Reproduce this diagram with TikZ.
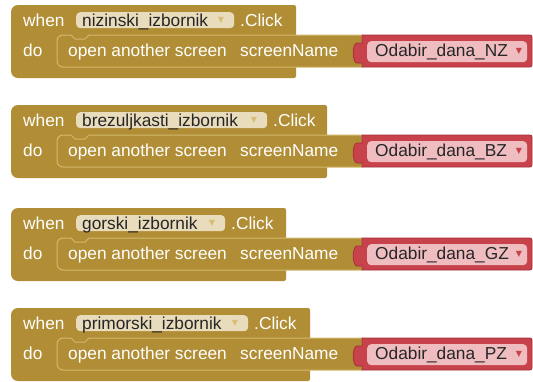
\documentclass[tikz,border=0pt]{standalone}
\usepackage{fontspec}
\setmainfont{Liberation Sans}
\newfontfamily\symfont{DejaVu Sans}
\definecolor{gold}{HTML}{B18E35}
\definecolor{goldlight}{HTML}{D3B86F}
\definecolor{golddark}{HTML}{8C6E26}
\definecolor{beige}{HTML}{E8DCBD}
\definecolor{beigearr}{HTML}{D9BD74}
\definecolor{redblk}{HTML}{C7424A}
\definecolor{reddark}{HTML}{A5303A}
\definecolor{pinkfld}{HTML}{EFBCC0}
\definecolor{txtdark}{HTML}{262626}
\tikzset{
  lbl/.style={anchor=base west, inner sep=0pt, text=white, font=\fontsize{17.3}{20}\selectfont},
  fldtxt/.style={anchor=base west, inner sep=0pt, text=txtdark, font=\fontsize{17.3}{20}\selectfont},
  arrowglyph/.style={inner sep=0pt, font=\symfont\fontsize{8}{9}\selectfont},
  fieldbox/.style={fill=beige, rounded corners=4pt, anchor=north west, inner sep=0pt, minimum height=16pt},
  pinkbox/.style={fill=pinkfld, rounded corners=4pt, anchor=north west, inner sep=0pt, minimum height=21pt, minimum width=160pt},
  evfill/.style={fill=gold},
  stfill/.style={fill=gold, draw=goldlight, line width=1pt},
  redfill/.style={fill=redblk, draw=reddark, line width=0.8pt},
}
% #1 id, #2 top, #3 header right, #4 component, #5 field width, #6 screen
\newcommand\evblock[6]{%
  \pgfmathsetmacro\fr{76+#5}%
  \begin{scope}[shift={(0,#2)}]
    \path[evfill] (11,40) [rounded corners=7pt] -- (11,0) [rounded corners=2pt] -- (#3,0) -- (#3,73) [rounded corners=7pt] -- (11,73) -- cycle;
    \path[stfill] (57,46) [rounded corners=6pt] -- (57,30) [sharp corners] -- (71,30) -- (75,34) -- (85,34) -- (89,30) -- (362,30) -- (362,62) [rounded corners=6pt] -- (57,62) -- cycle;
    \path[redfill] (362,30) [rounded corners=2pt] -- (532,30) -- (532,62) [sharp corners] -- (362,62) -- (362,58) -- (357,58) .. controls (352,58) and (352,38) .. (357,38) -- (362,38) -- cycle;
    \node[lbl] (when#1) at (23,21) {when};
    \node[fieldbox, minimum width=#5 pt] (fld#1) at (76,7) {};
    \node[fldtxt] (fldt#1) at (82,21) {#4};
    \node[arrowglyph, text=beigearr] (fa#1) at ({\fr-13},15) {▼};
    \node[lbl] (click#1) at ({\fr+6},21) {.Click};
    \node[lbl] (do#1) at (23,51) {do};
    \node[lbl] (open#1) at (68,51) {open another screen};
    \node[lbl] (sn#1) at (240,51) {screenName};
    \node[pinkbox] (pf#1) at (367,36) {};
    \node[fldtxt] (pft#1) at (375,51) {#6};
    \node[arrowglyph, text=redblk] (pa#1) at (519,46) {▼};
  \end{scope}
}
\begin{document}
\begin{tikzpicture}[x=1pt,y=-1pt]
  \useasboundingbox (0,0) rectangle (533,381);
  \fill[white] (0,0) rectangle (533,381);
  \evblock{a}{5}{296}{nizinski\_izbornik}{158}{Odabir\_dana\_NZ}
  \evblock{b}{105}{327}{brezuljkasti\_izbornik}{191}{Odabir\_dana\_BZ}
  \evblock{c}{208}{286}{gorski\_izbornik}{149}{Odabir\_dana\_GZ}
  \evblock{d}{308}{310}{primorski\_izbornik}{172}{Odabir\_dana\_PZ}
\end{tikzpicture}
\end{document}
